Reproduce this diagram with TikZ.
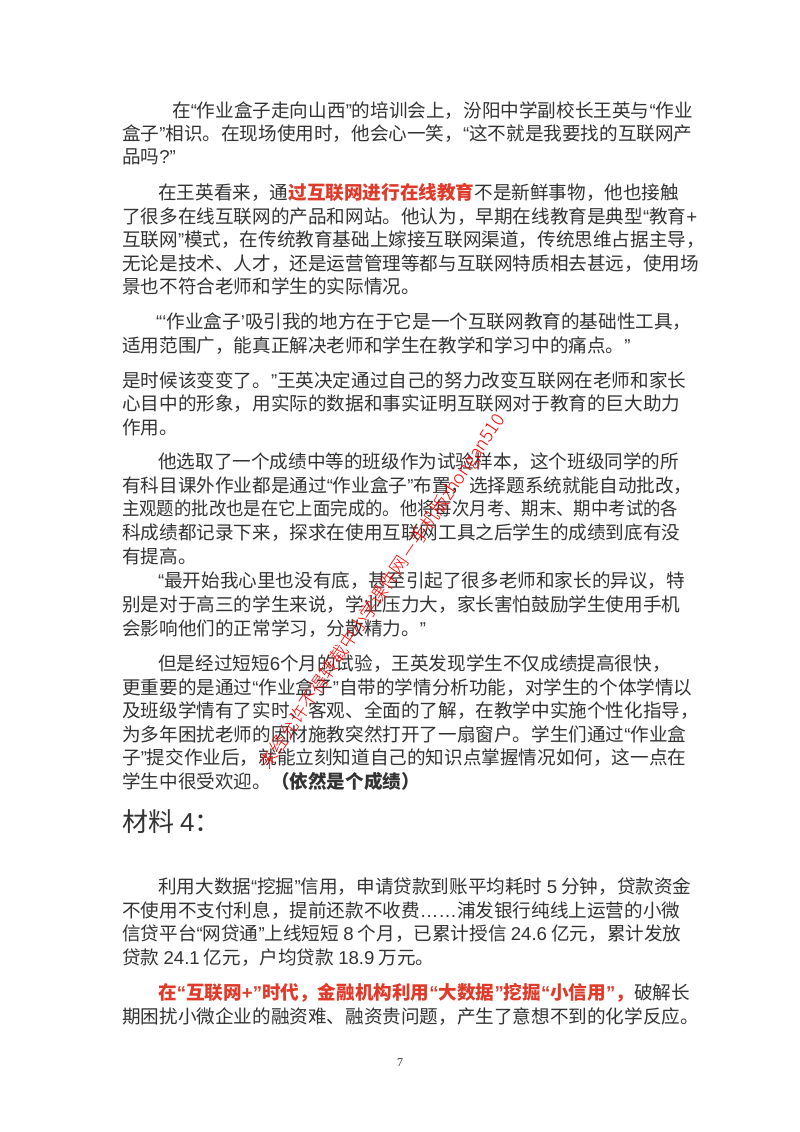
\documentclass[tikz,border=0pt]{standalone}
\usepackage{fontspec}
\usepackage{graphicx}
\setmainfont{Noto Sans CJK SC}
\newfontfamily\lat{Liberation Sans}
\newfontfamily\wm{Noto Sans CJK SC Light}
\definecolor{txt}{HTML}{333333}
\definecolor{hl}{HTML}{E03A2A}
\newcommand{\R}[1]{{\color{hl}\bfseries #1}}
\newcommand{\qa}{{\lat “}}
\newcommand{\qb}{{\lat ”}}
\newcommand{\sqa}{{\lat ‘}}
\newcommand{\sqb}{{\lat ’}}
\newcommand{\N}[1]{{\lat #1}}
\begin{document}
\begin{tikzpicture}[x=1pt,y=1pt,
  ln/.style={anchor=base west,inner sep=0pt,text=txt,font=\fontsize{18.6}{20}\selectfont}]
\useasboundingbox (0,0) rectangle (800,1132);
\fill[white] (0,0) rectangle (800,1132);
% P1
\node[ln] (a1) at (172,1132-118) {在\qa 作业盒子走向山西\qb 的培训会上，汾阳中学副校长王英与\qa 作业};
\node[ln] (a2) at (122,1132-141) {盒子\qb 相识。在现场使用时，他会心一笑，\qa 这不就是我要找的互联网产};
\node[ln] (a3) at (122,1132-164) {品吗\N{?}\qb};
% P2
\node[ln] (b1) at (158,1132-200) {在王英看来，通\R{过互联网进行在线教育}不是新鲜事物，他也接触};
\node[ln] (b2) at (122,1132-224) {了很多在线互联网的产品和网站。他认为，早期在线教育是典型\qa 教育\N{+}};
\node[ln] (b3) at (122,1132-247) {互联网\qb 模式，在传统教育基础上嫁接互联网渠道，传统思维占据主导，};
\node[ln] (b4) at (122,1132-271) {无论是技术、人才，还是运营管理等都与互联网特质相去甚远，使用场};
\node[ln] (b5) at (122,1132-294) {景也不符合老师和学生的实际情况。};
% P3
\node[ln] (c1) at (156,1132-329) {\qa\sqa 作业盒子\sqb 吸引我的地方在于它是一个互联网教育的基础性工具，};
\node[ln] (c2) at (122,1132-353) {适用范围广，能真正解决老师和学生在教学和学习中的痛点。\qb};
% P4
\node[ln] (d1) at (122,1132-388) {是时候该变变了。\qb 王英决定通过自己的努力改变互联网在老师和家长};
\node[ln] (d2) at (122,1132-411) {心目中的形象，用实际的数据和事实证明互联网对于教育的巨大助力};
\node[ln] (d3) at (122,1132-435) {作用。};
% P5
\node[ln] (e1) at (158,1132-469) {他选取了一个成绩中等的班级作为试验样本，这个班级同学的所};
\node[ln] (e2) at (122,1132-493) {有科目课外作业都是通过\qa 作业盒子\qb 布置，选择题系统就能自动批改，};
\node[ln] (e3) at (122,1132-516) {\resizebox{556pt}{\height}{主观题的批改也是在它上面完成的。他将每次月考、期末、期中考试的各}};
\node[ln] (e4) at (122,1132-540) {科成绩都记录下来，探求在使用互联网工具之后学生的成绩到底有没};
\node[ln] (e5) at (122,1132-564) {有提高。};
% P6
\node[ln] (f1) at (158,1132-588) {\qa 最开始我心里也没有底，甚至引起了很多老师和家长的异议，特};
\node[ln] (f2) at (122,1132-612) {别是对于高三的学生来说，学业压力大，家长害怕鼓励学生使用手机};
\node[ln] (f3) at (122,1132-636) {会影响他们的正常学习，分散精力。\qb};
% P7
\node[ln] (g1) at (158,1132-671) {但是经过短短\N{6}个月的试验，王英发现学生不仅成绩提高很快，};
\node[ln] (g2) at (122,1132-695) {更重要的是通过\qa 作业盒子\qb 自带的学情分析功能，对学生的个体学情以};
\node[ln] (g3) at (122,1132-718) {及班级学情有了实时、客观、全面的了解，在教学中实施个性化指导，};
\node[ln] (g4) at (122,1132-742) {为多年困扰老师的因材施教突然打开了一扇窗户。学生们通过\qa 作业盒};
\node[ln] (g5) at (122,1132-765) {子\qb 提交作业后，就能立刻知道自己的知识点掌握情况如何，这一点在};
\node[ln] (g6) at (122,1132-789) {学生中很受欢迎。\textbf{（依然是个成绩）}};
% heading
\node[ln,font=\fontsize{26}{28}\selectfont] (h) at (122,1132-832) {材料 \N{4}：};
% P8
\node[ln] (i1) at (158,1132-894) {利用大数据\qa 挖掘\qb 信用，申请贷款到账平均耗时 \N{5} 分钟，贷款资金};
\node[ln] (i2) at (122,1132-918) {不使用不支付利息，提前还款不收费\N{……}浦发银行纯线上运营的小微};
\node[ln] (i3) at (122,1132-941) {信贷平台\qa 网贷通\qb 上线短短 \N{8} 个月，已累计授信 \N{24.6} 亿元，累计发放};
\node[ln] (i4) at (122,1132-965) {贷款 \N{24.1} 亿元，户均贷款 \N{18.9} 万元。};
% P9
\node[ln] (j1) at (158,1132-1000) {\R{在\qa 互联网\N{+}\qb 时代，金融机构利用\qa 大数据\qb 挖掘\qa 小信用\qb ，}破解长};
\node[ln] (j2) at (122,1132-1024) {期困扰小微企业的融资难、融资贵问题，产生了意想不到的化学反应。};
% page number
\node[inner sep=0pt,font=\fontspec{Liberation Serif}\fontsize{12}{12}\selectfont,text=txt] (pn) at (400,1132-1063) {7};
% watermark
\node[inner sep=0pt,rotate=56,text=red,font=\wm\fontsize{18}{18}\selectfont] (wm) at (383,1132-592) {未经允许不得转载中小学课件网－手机版zhongan510};
\end{tikzpicture}
\end{document}
